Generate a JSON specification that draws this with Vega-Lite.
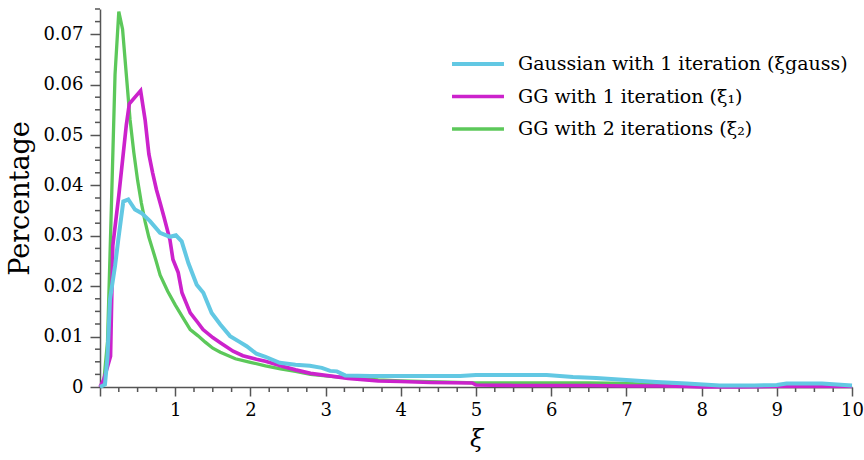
{
  "$schema": "https://vega.github.io/schema/vega-lite/v6.json",
  "width": 752,
  "height": 378,
  "autosize": "none",
  "padding": {"left": 100, "top": 9, "right": 12, "bottom": 73},
  "config": {
    "font": "DejaVu Serif",
    "view": {"stroke": null},
    "axis": {
      "domainColor": "#555555",
      "tickColor": "#555555",
      "labelColor": "#000000",
      "titleColor": "#000000",
      "grid": false,
      "labelFont": "DejaVu Serif",
      "titleFont": "DejaVu Serif",
      "titleFontWeight": "normal",
      "domainWidth": 1.5,
      "tickWidth": 1.5
    }
  },
  "layer": [
    {
      "data": {"values": [
        {"x": 0.25, "y": 0}, {"x": 0.5, "y": 0}, {"x": 0.75, "y": 0},
        {"x": 1.25, "y": 0}, {"x": 1.5, "y": 0}, {"x": 1.75, "y": 0},
        {"x": 2.25, "y": 0}, {"x": 2.5, "y": 0}, {"x": 2.75, "y": 0},
        {"x": 3.25, "y": 0}, {"x": 3.5, "y": 0}, {"x": 3.75, "y": 0},
        {"x": 4.25, "y": 0}, {"x": 4.5, "y": 0}, {"x": 4.75, "y": 0},
        {"x": 5.25, "y": 0}, {"x": 5.5, "y": 0}, {"x": 5.75, "y": 0},
        {"x": 6.25, "y": 0}, {"x": 6.5, "y": 0}, {"x": 6.75, "y": 0},
        {"x": 7.25, "y": 0}, {"x": 7.5, "y": 0}, {"x": 7.75, "y": 0},
        {"x": 8.25, "y": 0}, {"x": 8.5, "y": 0}, {"x": 8.75, "y": 0},
        {"x": 9.25, "y": 0}, {"x": 9.5, "y": 0}, {"x": 9.75, "y": 0}
      ]},
      "mark": {"type": "tick", "orient": "vertical", "color": "#555555", "opacity": 1, "thickness": 1.5, "size": 5, "yOffset": 2.5},
      "encoding": {
        "x": {"field": "x", "type": "quantitative"},
        "y": {"field": "y", "type": "quantitative"}
      }
    },
    {
      "data": {"values": [
        {"x": 0, "y": 0.0025}, {"x": 0, "y": 0.005}, {"x": 0, "y": 0.0075},
        {"x": 0, "y": 0.0125}, {"x": 0, "y": 0.015}, {"x": 0, "y": 0.0175},
        {"x": 0, "y": 0.0225}, {"x": 0, "y": 0.025}, {"x": 0, "y": 0.0275},
        {"x": 0, "y": 0.0325}, {"x": 0, "y": 0.035}, {"x": 0, "y": 0.0375},
        {"x": 0, "y": 0.0425}, {"x": 0, "y": 0.045}, {"x": 0, "y": 0.0475},
        {"x": 0, "y": 0.0525}, {"x": 0, "y": 0.055}, {"x": 0, "y": 0.0575},
        {"x": 0, "y": 0.0625}, {"x": 0, "y": 0.065}, {"x": 0, "y": 0.0675},
        {"x": 0, "y": 0.0725}, {"x": 0, "y": 0.075}
      ]},
      "mark": {"type": "tick", "orient": "horizontal", "color": "#555555", "opacity": 1, "thickness": 1.5, "size": 5, "xOffset": -2.5},
      "encoding": {
        "x": {"field": "x", "type": "quantitative"},
        "y": {"field": "y", "type": "quantitative"}
      }
    },
    {
      "data": {"values": [
        {"series": "GG with 2 iterations (ξ₂)", "x": 0, "y": 0},
        {"series": "GG with 2 iterations (ξ₂)", "x": 0.05, "y": 0.001},
        {"series": "GG with 2 iterations (ξ₂)", "x": 0.1, "y": 0.009},
        {"series": "GG with 2 iterations (ξ₂)", "x": 0.15, "y": 0.035},
        {"series": "GG with 2 iterations (ξ₂)", "x": 0.2, "y": 0.062},
        {"series": "GG with 2 iterations (ξ₂)", "x": 0.25, "y": 0.0745},
        {"series": "GG with 2 iterations (ξ₂)", "x": 0.3, "y": 0.071},
        {"series": "GG with 2 iterations (ξ₂)", "x": 0.35, "y": 0.062},
        {"series": "GG with 2 iterations (ξ₂)", "x": 0.4, "y": 0.053},
        {"series": "GG with 2 iterations (ξ₂)", "x": 0.45, "y": 0.0465},
        {"series": "GG with 2 iterations (ξ₂)", "x": 0.5, "y": 0.041},
        {"series": "GG with 2 iterations (ξ₂)", "x": 0.55, "y": 0.0365},
        {"series": "GG with 2 iterations (ξ₂)", "x": 0.6, "y": 0.0328},
        {"series": "GG with 2 iterations (ξ₂)", "x": 0.65, "y": 0.0297},
        {"series": "GG with 2 iterations (ξ₂)", "x": 0.7, "y": 0.0273},
        {"series": "GG with 2 iterations (ξ₂)", "x": 0.75, "y": 0.0248},
        {"series": "GG with 2 iterations (ξ₂)", "x": 0.8, "y": 0.0222},
        {"series": "GG with 2 iterations (ξ₂)", "x": 0.9, "y": 0.019},
        {"series": "GG with 2 iterations (ξ₂)", "x": 1.0, "y": 0.0163},
        {"series": "GG with 2 iterations (ξ₂)", "x": 1.1, "y": 0.0138},
        {"series": "GG with 2 iterations (ξ₂)", "x": 1.2, "y": 0.0114},
        {"series": "GG with 2 iterations (ξ₂)", "x": 1.3, "y": 0.0102},
        {"series": "GG with 2 iterations (ξ₂)", "x": 1.4, "y": 0.0089},
        {"series": "GG with 2 iterations (ξ₂)", "x": 1.5, "y": 0.0077},
        {"series": "GG with 2 iterations (ξ₂)", "x": 1.6, "y": 0.0069},
        {"series": "GG with 2 iterations (ξ₂)", "x": 1.8, "y": 0.0056},
        {"series": "GG with 2 iterations (ξ₂)", "x": 2.0, "y": 0.0049},
        {"series": "GG with 2 iterations (ξ₂)", "x": 2.2, "y": 0.0042},
        {"series": "GG with 2 iterations (ξ₂)", "x": 2.4, "y": 0.0036},
        {"series": "GG with 2 iterations (ξ₂)", "x": 2.6, "y": 0.0031},
        {"series": "GG with 2 iterations (ξ₂)", "x": 2.8, "y": 0.0025},
        {"series": "GG with 2 iterations (ξ₂)", "x": 3.0, "y": 0.0022},
        {"series": "GG with 2 iterations (ξ₂)", "x": 3.3, "y": 0.0018},
        {"series": "GG with 2 iterations (ξ₂)", "x": 3.7, "y": 0.0014},
        {"series": "GG with 2 iterations (ξ₂)", "x": 4.0, "y": 0.0012},
        {"series": "GG with 2 iterations (ξ₂)", "x": 4.5, "y": 0.001},
        {"series": "GG with 2 iterations (ξ₂)", "x": 5.0, "y": 0.0008},
        {"series": "GG with 2 iterations (ξ₂)", "x": 5.5, "y": 0.0008},
        {"series": "GG with 2 iterations (ξ₂)", "x": 6.0, "y": 0.0008},
        {"series": "GG with 2 iterations (ξ₂)", "x": 6.5, "y": 0.0008},
        {"series": "GG with 2 iterations (ξ₂)", "x": 7.0, "y": 0.0007},
        {"series": "GG with 2 iterations (ξ₂)", "x": 7.3, "y": 0.0005},
        {"series": "GG with 2 iterations (ξ₂)", "x": 7.6, "y": 0.0002},
        {"series": "GG with 2 iterations (ξ₂)", "x": 8.0, "y": 0.0001},
        {"series": "GG with 2 iterations (ξ₂)", "x": 9.0, "y": 0.0001},
        {"series": "GG with 2 iterations (ξ₂)", "x": 10.0, "y": 0.0001},
        {"series": "GG with 1 iteration (ξ₁)", "x": 0, "y": 0},
        {"series": "GG with 1 iteration (ξ₁)", "x": 0.05, "y": 0.0015},
        {"series": "GG with 1 iteration (ξ₁)", "x": 0.1, "y": 0.004},
        {"series": "GG with 1 iteration (ξ₁)", "x": 0.14, "y": 0.0061},
        {"series": "GG with 1 iteration (ξ₁)", "x": 0.17, "y": 0.028},
        {"series": "GG with 1 iteration (ξ₁)", "x": 0.25, "y": 0.038},
        {"series": "GG with 1 iteration (ξ₁)", "x": 0.3, "y": 0.045},
        {"series": "GG with 1 iteration (ξ₁)", "x": 0.35, "y": 0.052},
        {"series": "GG with 1 iteration (ξ₁)", "x": 0.39, "y": 0.0562},
        {"series": "GG with 1 iteration (ξ₁)", "x": 0.54, "y": 0.0588},
        {"series": "GG with 1 iteration (ξ₁)", "x": 0.6, "y": 0.053},
        {"series": "GG with 1 iteration (ξ₁)", "x": 0.65, "y": 0.0462},
        {"series": "GG with 1 iteration (ξ₁)", "x": 0.7, "y": 0.0425},
        {"series": "GG with 1 iteration (ξ₁)", "x": 0.75, "y": 0.0392},
        {"series": "GG with 1 iteration (ξ₁)", "x": 0.8, "y": 0.0365},
        {"series": "GG with 1 iteration (ξ₁)", "x": 0.85, "y": 0.0338},
        {"series": "GG with 1 iteration (ξ₁)", "x": 0.93, "y": 0.0292},
        {"series": "GG with 1 iteration (ξ₁)", "x": 0.97, "y": 0.0253},
        {"series": "GG with 1 iteration (ξ₁)", "x": 1.04, "y": 0.0227},
        {"series": "GG with 1 iteration (ξ₁)", "x": 1.09, "y": 0.0187},
        {"series": "GG with 1 iteration (ξ₁)", "x": 1.2, "y": 0.0147},
        {"series": "GG with 1 iteration (ξ₁)", "x": 1.3, "y": 0.0128},
        {"series": "GG with 1 iteration (ξ₁)", "x": 1.37, "y": 0.0114},
        {"series": "GG with 1 iteration (ξ₁)", "x": 1.5, "y": 0.0098},
        {"series": "GG with 1 iteration (ξ₁)", "x": 1.6, "y": 0.0088},
        {"series": "GG with 1 iteration (ξ₁)", "x": 1.77, "y": 0.0071},
        {"series": "GG with 1 iteration (ξ₁)", "x": 1.9, "y": 0.0062},
        {"series": "GG with 1 iteration (ξ₁)", "x": 2.08, "y": 0.0055},
        {"series": "GG with 1 iteration (ξ₁)", "x": 2.2, "y": 0.0051},
        {"series": "GG with 1 iteration (ξ₁)", "x": 2.4, "y": 0.0042},
        {"series": "GG with 1 iteration (ξ₁)", "x": 2.6, "y": 0.0034},
        {"series": "GG with 1 iteration (ξ₁)", "x": 2.8, "y": 0.0027},
        {"series": "GG with 1 iteration (ξ₁)", "x": 3.0, "y": 0.0023},
        {"series": "GG with 1 iteration (ξ₁)", "x": 3.3, "y": 0.0017},
        {"series": "GG with 1 iteration (ξ₁)", "x": 3.7, "y": 0.0012},
        {"series": "GG with 1 iteration (ξ₁)", "x": 4.0, "y": 0.0011},
        {"series": "GG with 1 iteration (ξ₁)", "x": 4.4, "y": 0.0009},
        {"series": "GG with 1 iteration (ξ₁)", "x": 4.95, "y": 0.0008},
        {"series": "GG with 1 iteration (ξ₁)", "x": 5.0, "y": 0.0004},
        {"series": "GG with 1 iteration (ξ₁)", "x": 5.5, "y": 0.0003},
        {"series": "GG with 1 iteration (ξ₁)", "x": 6.0, "y": 0.0003},
        {"series": "GG with 1 iteration (ξ₁)", "x": 6.5, "y": 0.0003},
        {"series": "GG with 1 iteration (ξ₁)", "x": 7.0, "y": 0.0002},
        {"series": "GG with 1 iteration (ξ₁)", "x": 7.5, "y": 0.0002},
        {"series": "GG with 1 iteration (ξ₁)", "x": 7.8, "y": 0.0001},
        {"series": "GG with 1 iteration (ξ₁)", "x": 8.0, "y": 0.0},
        {"series": "GG with 1 iteration (ξ₁)", "x": 8.5, "y": 0.0},
        {"series": "GG with 1 iteration (ξ₁)", "x": 9.0, "y": 0.0001},
        {"series": "GG with 1 iteration (ξ₁)", "x": 9.5, "y": 0.0001},
        {"series": "GG with 1 iteration (ξ₁)", "x": 10.0, "y": 0.0001},
        {"series": "Gaussian with 1 iteration (ξgauss)", "x": 0, "y": 0},
        {"series": "Gaussian with 1 iteration (ξgauss)", "x": 0.066, "y": 0.0005},
        {"series": "Gaussian with 1 iteration (ξgauss)", "x": 0.1, "y": 0.006},
        {"series": "Gaussian with 1 iteration (ξgauss)", "x": 0.133, "y": 0.0174},
        {"series": "Gaussian with 1 iteration (ξgauss)", "x": 0.2, "y": 0.024},
        {"series": "Gaussian with 1 iteration (ξgauss)", "x": 0.243, "y": 0.0292},
        {"series": "Gaussian with 1 iteration (ξgauss)", "x": 0.31, "y": 0.0368},
        {"series": "Gaussian with 1 iteration (ξgauss)", "x": 0.376, "y": 0.0372},
        {"series": "Gaussian with 1 iteration (ξgauss)", "x": 0.465, "y": 0.0352},
        {"series": "Gaussian with 1 iteration (ξgauss)", "x": 0.554, "y": 0.0345},
        {"series": "Gaussian with 1 iteration (ξgauss)", "x": 0.665, "y": 0.0329},
        {"series": "Gaussian with 1 iteration (ξgauss)", "x": 0.798, "y": 0.0306},
        {"series": "Gaussian with 1 iteration (ξgauss)", "x": 0.931, "y": 0.0298},
        {"series": "Gaussian with 1 iteration (ξgauss)", "x": 1.01, "y": 0.0301},
        {"series": "Gaussian with 1 iteration (ξgauss)", "x": 1.086, "y": 0.0289},
        {"series": "Gaussian with 1 iteration (ξgauss)", "x": 1.175, "y": 0.0246},
        {"series": "Gaussian with 1 iteration (ξgauss)", "x": 1.286, "y": 0.0203},
        {"series": "Gaussian with 1 iteration (ξgauss)", "x": 1.374, "y": 0.0187},
        {"series": "Gaussian with 1 iteration (ξgauss)", "x": 1.485, "y": 0.0147},
        {"series": "Gaussian with 1 iteration (ξgauss)", "x": 1.6, "y": 0.0124},
        {"series": "Gaussian with 1 iteration (ξgauss)", "x": 1.73, "y": 0.0101},
        {"series": "Gaussian with 1 iteration (ξgauss)", "x": 1.85, "y": 0.009},
        {"series": "Gaussian with 1 iteration (ξgauss)", "x": 1.95, "y": 0.0081},
        {"series": "Gaussian with 1 iteration (ξgauss)", "x": 2.08, "y": 0.0066},
        {"series": "Gaussian with 1 iteration (ξgauss)", "x": 2.2, "y": 0.006},
        {"series": "Gaussian with 1 iteration (ξgauss)", "x": 2.39, "y": 0.0048},
        {"series": "Gaussian with 1 iteration (ξgauss)", "x": 2.6, "y": 0.0044},
        {"series": "Gaussian with 1 iteration (ξgauss)", "x": 2.79, "y": 0.0042},
        {"series": "Gaussian with 1 iteration (ξgauss)", "x": 2.95, "y": 0.0038},
        {"series": "Gaussian with 1 iteration (ξgauss)", "x": 3.06, "y": 0.0032},
        {"series": "Gaussian with 1 iteration (ξgauss)", "x": 3.15, "y": 0.0031},
        {"series": "Gaussian with 1 iteration (ξgauss)", "x": 3.26, "y": 0.0023},
        {"series": "Gaussian with 1 iteration (ξgauss)", "x": 3.6, "y": 0.0022},
        {"series": "Gaussian with 1 iteration (ξgauss)", "x": 4.2, "y": 0.0022},
        {"series": "Gaussian with 1 iteration (ξgauss)", "x": 4.79, "y": 0.0022},
        {"series": "Gaussian with 1 iteration (ξgauss)", "x": 5.0, "y": 0.0024},
        {"series": "Gaussian with 1 iteration (ξgauss)", "x": 5.5, "y": 0.0024},
        {"series": "Gaussian with 1 iteration (ξgauss)", "x": 5.94, "y": 0.0024},
        {"series": "Gaussian with 1 iteration (ξgauss)", "x": 6.29, "y": 0.002},
        {"series": "Gaussian with 1 iteration (ξgauss)", "x": 6.6, "y": 0.0018},
        {"series": "Gaussian with 1 iteration (ξgauss)", "x": 7.0, "y": 0.0014},
        {"series": "Gaussian with 1 iteration (ξgauss)", "x": 7.4, "y": 0.001},
        {"series": "Gaussian with 1 iteration (ξgauss)", "x": 7.8, "y": 0.0007},
        {"series": "Gaussian with 1 iteration (ξgauss)", "x": 8.24, "y": 0.0003},
        {"series": "Gaussian with 1 iteration (ξgauss)", "x": 8.7, "y": 0.0003},
        {"series": "Gaussian with 1 iteration (ξgauss)", "x": 9.0, "y": 0.0004},
        {"series": "Gaussian with 1 iteration (ξgauss)", "x": 9.13, "y": 0.0007},
        {"series": "Gaussian with 1 iteration (ξgauss)", "x": 9.6, "y": 0.0007},
        {"series": "Gaussian with 1 iteration (ξgauss)", "x": 10.0, "y": 0.0003}
      ]},
      "mark": {"type": "line"},
      "encoding": {
        "x": {
          "field": "x", "type": "quantitative",
          "scale": {"domain": [0, 10], "nice": false},
          "axis": {
            "title": "ξ",
            "titleFontSize": 24,
            "titleFontStyle": "italic",
            "titlePadding": 8,
            "values": [0,1,2,3,4,5,6,7,8,9,10],
            "format": "d",
            "labelOpacity": {"condition": {"test": "datum.value > 0", "value": 1}, "value": 0},
            "labelFontSize": 18,
            "labelPadding": 5,
            "tickSize": 9,
            "labelOverlap": false,
            "labelFlush": false
          }
        },
        "y": {
          "field": "y", "type": "quantitative",
          "scale": {"domain": [0, 0.075], "nice": false},
          "axis": {
            "title": "Percentage",
            "titleFontSize": 27,
            "titlePadding": 8,
            "values": [0,0.01,0.02,0.03,0.04,0.05,0.06,0.07],
            "format": ".2~f",
            "labelFontSize": 18,
            "labelPadding": 7,
            "tickSize": 10,
            "labelOverlap": false,
            "labelFlush": false
          }
        },
        "color": {
          "field": "series", "type": "nominal",
          "scale": {
            "domain": ["Gaussian with 1 iteration (ξgauss)", "GG with 1 iteration (ξ₁)", "GG with 2 iterations (ξ₂)"],
            "range": ["#62c8e3", "#cc22cc", "#5cc85a"]
          },
          "legend": {
            "title": " ",
            "titleFontSize": 14,
            "titlePadding": 27,
            "orient": "top-right",
            "offset": 4,
            "padding": 0,
            "symbolType": "stroke",
            "symbolStrokeWidth": 4,
            "symbolSize": 2700,
            "labelFontSize": 19,
            "labelLimit": 500,
            "clipHeight": 20,
            "rowPadding": 12.5,
            "labelOffset": 12
          }
        },
        "strokeWidth": {
          "field": "series", "type": "nominal",
          "scale": {
            "domain": ["Gaussian with 1 iteration (ξgauss)", "GG with 1 iteration (ξ₁)", "GG with 2 iterations (ξ₂)"],
            "range": [4, 3.3, 2.7]
          },
          "legend": null
        }
      }
    }
  ]
}
